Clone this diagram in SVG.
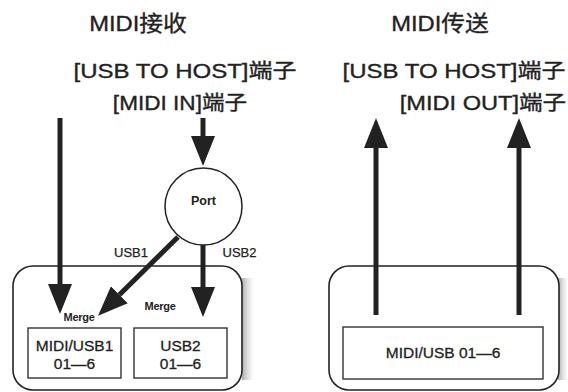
<svg xmlns="http://www.w3.org/2000/svg" width="568" height="392" viewBox="0 0 568 392">
<style>
text{font-family:"Liberation Sans","Noto Sans CJK SC",Arial,sans-serif;fill:#222;text-anchor:middle;stroke:#222;stroke-width:0.35}
.t{font-size:20px}
.s{font-size:13px;stroke-width:0.25}
.m{font-size:11px;font-weight:bold;letter-spacing:-0.3px;stroke-width:0}
.b{font-size:15.5px;stroke-width:0.3}
.frame{fill:#fff;stroke:#222;stroke-width:1.6}
.box{fill:#fff;stroke:#333;stroke-width:1.4}
.arr{stroke:#222;stroke-width:5;fill:none;marker-end:url(#ah)}
</style>
<defs>
<marker id="ah" markerUnits="userSpaceOnUse" markerWidth="30" markerHeight="24" viewBox="0 0 30 24" refX="0" refY="12" orient="auto">
<path d="M0,0 L30,12 L0,24 z" fill="#222"/>
</marker>
<linearGradient id="sh" x1="0" x2="1" y1="0" y2="0">
<stop offset="0" stop-color="#999" stop-opacity="0.8"/>
<stop offset="1" stop-color="#ccc" stop-opacity="0"/>
</linearGradient>
</defs>
<rect x="242" y="278" width="12" height="102" fill="url(#sh)"/>
<rect x="558" y="278" width="10" height="102" fill="url(#sh)"/>
<g id="titles">
<text class="t" transform="translate(138,31) scale(1.08,1)" style="font-size:22px">MIDI接收</text>
<text class="t" transform="translate(440,31) scale(1.08,1)" style="font-size:22px">MIDI传送</text>
<text class="t" transform="translate(185,78) scale(1.2,1)">[USB TO HOST]端子</text>
<text class="t" transform="translate(180,110) scale(1.13,1)">[MIDI IN]端子</text>
<text class="t" transform="translate(454,78) scale(1.2,1)">[USB TO HOST]端子</text>
<text class="t" transform="translate(483,110) scale(1.18,1)">[MIDI OUT]端子</text>
</g>
<g id="receiver">
<rect class="frame" x="13" y="266" width="229" height="124" rx="20"/>
</g>
<g id="sender">
<rect class="frame" x="329" y="266" width="230" height="124" rx="20"/>
</g>
<g id="midi-usb1">
<rect class="box" x="28" y="328" width="93" height="50"/>
<text class="b" x="74.5" y="351">MIDI/USB1</text>
<text class="b" x="74.5" y="369">01—6</text>
</g>
<g id="usb2">
<rect class="box" x="134" y="328" width="93" height="50"/>
<text class="b" x="180.5" y="351">USB2</text>
<text class="b" x="180.5" y="369">01—6</text>
</g>
<g id="midi-usb-out">
<rect class="box" x="343" y="327" width="200" height="52"/>
<text class="b" x="443" y="358">MIDI/USB 01—6</text>
</g>
<g id="port">
<circle cx="203.5" cy="206.5" r="38.5" fill="#fff" stroke="#222" stroke-width="1.5"/>
<text x="203.5" y="205" style="font-weight:bold;font-size:12.5px;stroke-width:0">Port</text>
</g>
<g id="connectors">
<line class="arr" x1="60" y1="118" x2="60" y2="284"/>
<line class="arr" x1="203" y1="118" x2="203" y2="136"/>
<line class="arr" x1="203" y1="245" x2="203" y2="287"/>
<line class="arr" x1="178" y1="237" x2="119.4" y2="294.8"/>
<line class="arr" x1="376" y1="315" x2="376" y2="148"/>
<line class="arr" x1="519" y1="315" x2="519" y2="148"/>
<text class="s" x="131" y="257">USB1</text>
<text class="s" x="239.5" y="257">USB2</text>
<text class="m" x="79" y="321">Merge</text>
<text class="m" x="160" y="310">Merge</text>
</g>
</svg>
